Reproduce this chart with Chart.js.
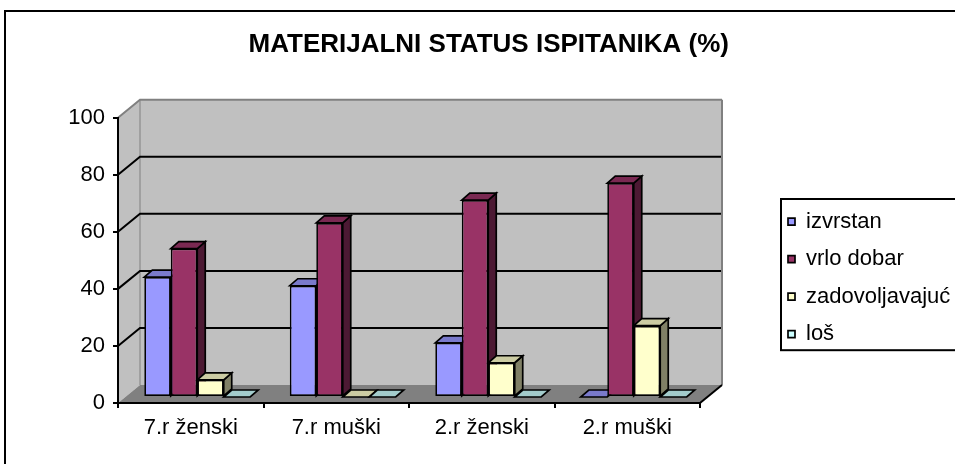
<!DOCTYPE html>
<html lang="hr">
<head>
<meta charset="UTF-8">
<title>Materijalni status ispitanika (%)</title>
<script src="https://cdn.jsdelivr.net/npm/chart.js@4.4.0/dist/chart.umd.min.js"></script>
<style>
  html, body { margin: 0; padding: 0; background: #fff; overflow: hidden; }
  .okvir { position: absolute; left: 4px; top: 10px; width: 1000px; height: 1000px; border: 2px solid #000; }
  .graf { position: absolute; left: 0; top: 0; width: 960px; height: 464px; }
</style>
</head>
<body>
<div class="okvir"></div>
<div class="graf"><canvas id="chart"></canvas></div>
<script>
// podaci
const kategorije = ['7.r ženski', '7.r muški', '2.r ženski', '2.r muški'];
const serije = ['izvrstan', 'vrlo dobar', 'zadovoljavajuć', 'loš'];
const izvrstan = [42, 39, 19, 0];
const vrloDobar = [52, 61, 69, 75];
const zadovoljavajuc = [6, 0, 12, 25];
const los = [0, 0, 0, 0];
const yOznake = [0, 20, 40, 60, 80, 100];

// boje: prednja strana, vrh, bok
const boje = ['#9999FF', '#993366', '#FFFFCC', '#CCFFFF'];
const vrhBoje = ['#7A7ACC', '#7A2952', '#CCCCA3', '#A3CCCC'];
const bokBoje = ['#4C4C80', '#4C1933', '#808066', '#668080'];

// 3D pomaci (px)
const DX = 22, DY = 18;   // dubina zidova
const PX = 6.5, PY = 6;   // prednja strana stupaca
const SX = 8, SY = 7;     // dubina stupca

function poligon(ctx, tocke, boja) {
    ctx.beginPath();
    ctx.moveTo(tocke[0][0], tocke[0][1]);
    for (let i = 1; i < tocke.length; i++) ctx.lineTo(tocke[i][0], tocke[i][1]);
    ctx.closePath();
    ctx.fillStyle = boja;
    ctx.fill();
    ctx.stroke();
}

const prostor3d = {
    id: 'prostor3d',
    beforeDraw(chart) {
        const { ctx, scales: { x, y } } = chart;
        const L = x.left, R = x.right;
        const y0 = y.getPixelForValue(0), yMax = y.getPixelForValue(y.max);
        ctx.save();
        // lijevi zid
        ctx.fillStyle = '#C0C0C0';
        ctx.beginPath();
        ctx.moveTo(L, y0); ctx.lineTo(L, yMax); ctx.lineTo(L + DX, yMax - DY); ctx.lineTo(L + DX, y0 - DY);
        ctx.closePath(); ctx.fill();
        // stražnji zid
        ctx.fillRect(L + DX, yMax - DY, R - L, y0 - yMax);
        // pod
        ctx.fillStyle = '#808080';
        ctx.beginPath();
        ctx.moveTo(L, y0); ctx.lineTo(R, y0); ctx.lineTo(R + DX, y0 - DY); ctx.lineTo(L + DX, y0 - DY);
        ctx.closePath(); ctx.fill();
        // spoj zidova
        ctx.strokeStyle = '#808080';
        ctx.lineWidth = 1;
        ctx.beginPath(); ctx.moveTo(L + DX, yMax - DY); ctx.lineTo(L + DX, y0 - DY); ctx.stroke();
        // linije mreže
        ctx.lineWidth = 2;
        y.ticks.forEach(t => {
            if (t.value === 0) return;
            const py = y.getPixelForValue(t.value);
            ctx.strokeStyle = t.value === y.max ? '#808080' : '#000';
            ctx.beginPath();
            ctx.moveTo(L, py); ctx.lineTo(L + DX, py - DY); ctx.lineTo(R + DX, py - DY);
            ctx.stroke();
        });
        ctx.strokeStyle = '#808080';
        ctx.beginPath(); ctx.moveTo(R + DX, yMax - DY); ctx.lineTo(R + DX, y0 - DY); ctx.stroke();
        ctx.strokeStyle = '#000';
        ctx.beginPath(); ctx.moveTo(R, y0); ctx.lineTo(R + DX, y0 - DY); ctx.stroke();
        ctx.restore();
    },
    beforeDatasetsDraw(chart) {
        const ctx = chart.ctx;
        ctx.save();
        ctx.translate(PX, -PY);
        ctx.lineWidth = 1.7;
        ctx.strokeStyle = '#000';
        // vrh i bok svakog stupca, slijeva nadesno
        chart.data.datasets.forEach((ds, i) => {
            chart.getDatasetMeta(i).data.forEach(bar => {
                const l = bar.x - bar.width / 2, r = bar.x + bar.width / 2;
                const t = Math.min(bar.y, bar.base), b = Math.max(bar.y, bar.base);
                if (b > t) poligon(ctx, [[r, t], [r + SX, t - SY], [r + SX, b - SY], [r, b]], bokBoje[i]);
                poligon(ctx, [[l, t], [r, t], [r + SX, t - SY], [l + SX, t - SY]], vrhBoje[i]);
            });
        });
    },
    afterDatasetsDraw(chart) {
        chart.ctx.restore();
    },
    afterDraw(chart) {
        const { ctx, legend } = chart;
        const hb = legend.legendHitBoxes;
        if (!hb || !hb.length) return;
        const prvi = hb[0], zadnji = hb[hb.length - 1];
        const top = prvi.top - 11.7;
        ctx.save();
        ctx.strokeStyle = '#000';
        ctx.lineWidth = 2;
        ctx.strokeRect(prvi.left - 7, top, 400, zadnji.top + zadnji.height + 5 - top);
        ctx.restore();
    }
};

Chart.defaults.font.family = '"Liberation Sans", Arial, sans-serif';
Chart.defaults.color = '#000';

const podaci = [izvrstan, vrloDobar, zadovoljavajuc, los];

new Chart(document.getElementById('chart'), {
    type: 'bar',
    data: {
        labels: kategorije,
        datasets: serije.map((ime, i) => ({
            label: ime,
            data: podaci[i],
            backgroundColor: boje[i],
            borderColor: '#000',
            borderWidth: 1.7,
            borderSkipped: false,
            categoryPercentage: 0.728,
            barPercentage: 1
        }))
    },
    options: {
        responsive: true,
        maintainAspectRatio: false,
        animation: false,
        layout: { padding: { left: 18, right: 0.5, top: 0, bottom: 21 } },
        scales: {
            x: {
                grid: { drawOnChartArea: false, color: '#000', lineWidth: 2, tickLength: 5 },
                border: { display: true, color: '#000', width: 2 },
                ticks: { font: { size: 22 }, padding: 7, maxRotation: 0 },
                afterFit: s => { s.height = 40; }
            },
            y: {
                min: 0,
                max: 100,
                grid: { drawOnChartArea: false, color: '#000', lineWidth: 2, tickLength: 5 },
                border: { display: true, color: '#000', width: 2 },
                ticks: { font: { size: 22 }, padding: 8 },
                afterBuildTicks: s => { s.ticks = yOznake.map(v => ({ value: v })); },
                afterFit: s => { s.width = 100; }
            },
            razmak: {
                position: 'right',
                grid: { display: false },
                border: { display: false },
                ticks: { display: false },
                afterFit: s => { s.width = 72.5; }
            }
        },
        plugins: {
            title: {
                display: true,
                text: 'MATERIJALNI STATUS ISPITANIKA (%)',
                font: { size: 26, weight: 'bold' },
                color: '#000',
                padding: { top: 29.6, bottom: 56.9 }
            },
            legend: {
                position: 'right',
                align: 'start',
                fullSize: false,
                maxWidth: 187,
                title: { display: true, text: '', font: { size: 10 }, padding: { top: 65.5, bottom: 0 } },
                labels: { boxWidth: 7, boxHeight: 7, padding: 15.5, font: { size: 22 }, color: '#000' }
            },
            tooltip: { enabled: false }
        }
    },
    plugins: [prostor3d]
});
</script>
</body>
</html>
